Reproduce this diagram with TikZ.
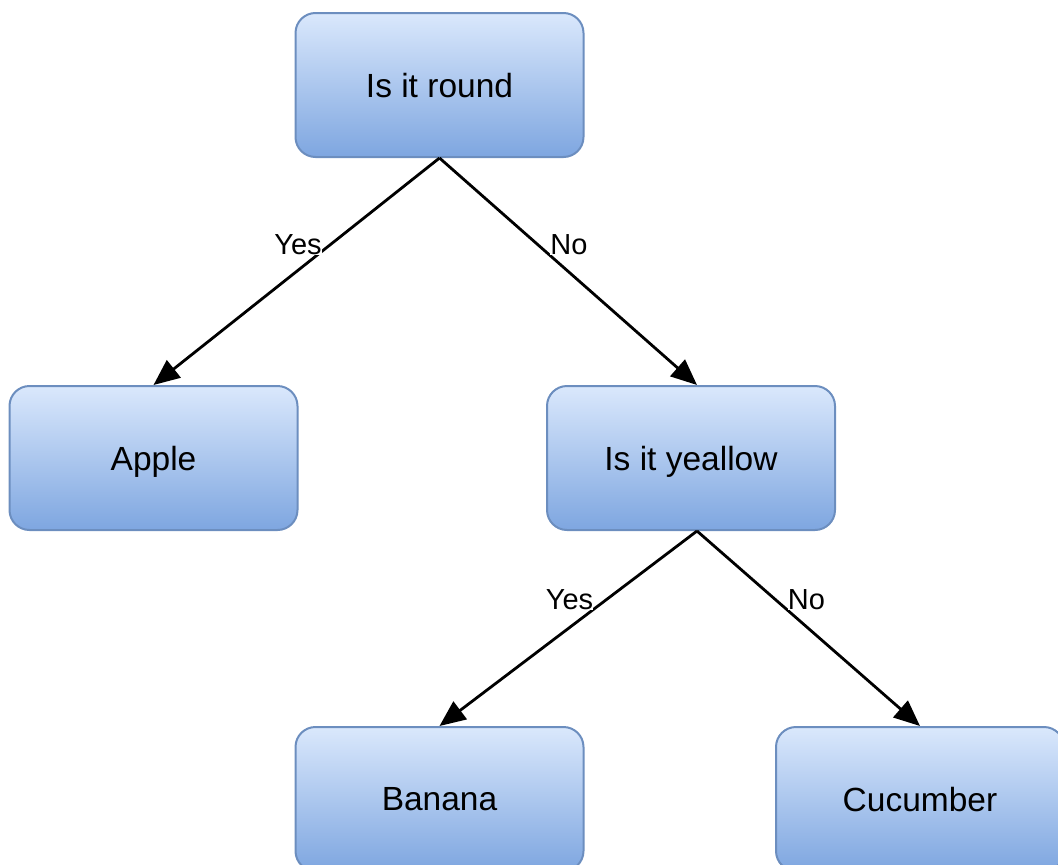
\documentclass[tikz,border=0pt]{standalone}
\usepackage{fontspec}
\setmainfont{Liberation Sans}
\usetikzlibrary{arrows.meta}
\definecolor{boxtop}{RGB}{218,232,252}
\definecolor{boxbot}{RGB}{126,166,224}
\definecolor{boxline}{RGB}{108,142,191}
\tikzset{
  decision/.style={draw=boxline, line width=2pt, rounded corners=20pt,
    top color=boxtop, bottom color=boxbot, minimum width=288pt,
    minimum height=144pt, inner sep=0pt, text depth=0pt,
    font=\fontsize{33.5}{38}\selectfont},
  arr/.style={draw=black, line width=2.8pt,
    -{Triangle[length=26pt,width=22pt]}},
  lbl/.style={fill=white, inner sep=0pt, font=\fontsize{29}{33}\selectfont}
}
\begin{document}
\begin{tikzpicture}[x=1pt, y=-1pt]
  \useasboundingbox (0,0) rectangle (1058,865);
  % tree nodes
  \node[decision] (round)  at (439.5,85)  {Is it round};
  \node[decision] (apple)  at (153.5,458) {Apple};
  \node[decision] (yellow) at (691,458)   {Is it yeallow};
  \node[decision] (banana) at (439.5,799) {Banana};
  \node[decision] (cucum)  at (920,799)   {Cucumber};
  % branches
  \draw[arr] (round.south) -- (apple.north)
    node[lbl] at (298,245) {Yes};
  \draw[arr] (round.south) -- ([xshift=6pt]yellow.north)
    node[lbl] at (569,245) {No};
  \draw[arr] ([xshift=6pt]yellow.south) -- (banana.north)
    node[lbl] at (569.5,600) {Yes};
  \draw[arr] ([xshift=6pt]yellow.south) -- (cucum.north)
    node[lbl] at (806.5,600) {No};
\end{tikzpicture}
\end{document}
